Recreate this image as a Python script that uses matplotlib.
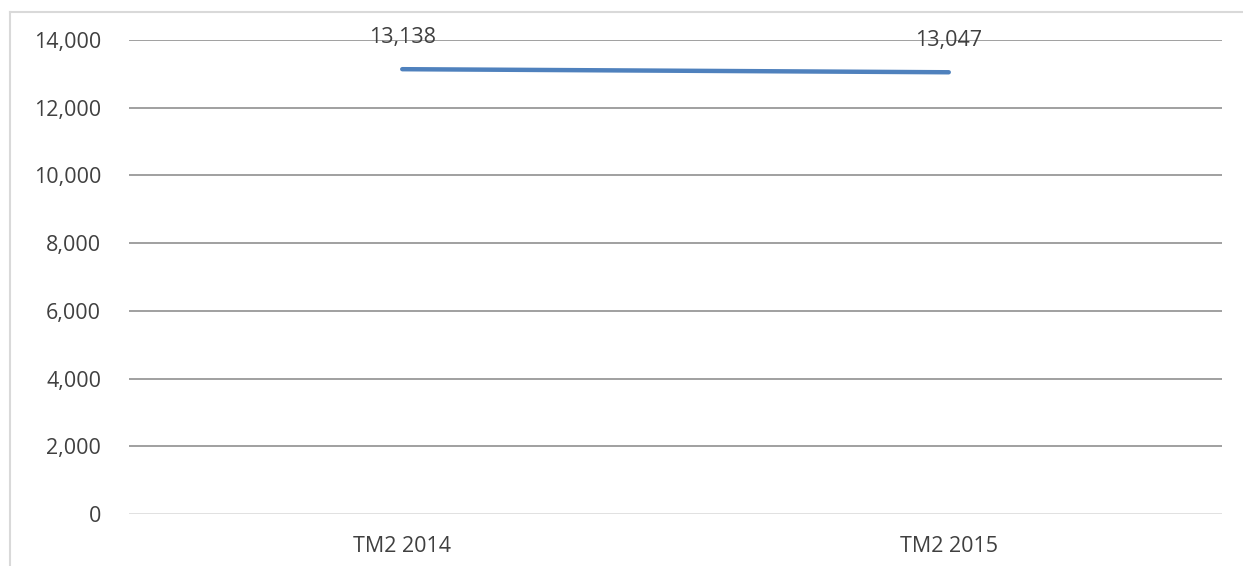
import matplotlib.pyplot as plt
from matplotlib.lines import Line2D
from matplotlib.ticker import FuncFormatter

# datos del grafico
categorias = ['TM2 2014', 'TM2 2015']
valores = [13138, 13047]
ticks_y = [0, 2000, 4000, 6000, 8000, 10000, 12000, 14000]

plt.rcParams['font.family'] = ['Open Sans', 'DejaVu Sans']

fig = plt.figure(figsize=(12.43, 5.66), dpi=100)
ax = fig.add_axes([129 / 1243, 1 - 514 / 566, (1222 - 129) / 1243, (514 - 40) / 566])

x = list(range(len(categorias)))
ax.plot(x, valores, color='#4F81BD', linewidth=3.2, solid_capstyle='round', zorder=3)

# etiquetas de los valores arriba de cada punto
for xi, v in zip(x, valores):
    ax.annotate(format(v, ','), (xi, v), xytext=(0, 23), textcoords='offset points',
                ha='center', va='center', fontsize=15.5, color='#404040', zorder=4)

ax.set_xlim(-0.5, 1.5)
ax.set_ylim(0, 14000)
ax.set_yticks(ticks_y)
ax.yaxis.set_major_formatter(FuncFormatter(lambda v, p: format(int(v), ',')))
ax.set_xticks(x)
ax.set_xticklabels(categorias)

# lineas de la cuadricula
for t in ticks_y[1:]:
    ax.axhline(t, color='#868686', linewidth=1.1, zorder=1)
ax.axhline(0, color='#D9D9D9', linewidth=1.1, zorder=1)

for s in ax.spines.values():
    s.set_visible(False)
ax.tick_params(length=0, labelsize=15.5, labelcolor='#404040')
ax.tick_params(axis='y', pad=20)
ax.tick_params(axis='x', pad=16)

# borde del area del grafico (solo se ve arriba y a la izquierda)
fig.add_artist(Line2D([10 / 1243, 10 / 1243], [0, 1 - 12 / 566], transform=fig.transFigure,
                      color='#D9D9D9', linewidth=1.5))
fig.add_artist(Line2D([10 / 1243, 1], [1 - 12 / 566, 1 - 12 / 566], transform=fig.transFigure,
                      color='#D9D9D9', linewidth=1.5))

fig.savefig('out.png', dpi=100)
